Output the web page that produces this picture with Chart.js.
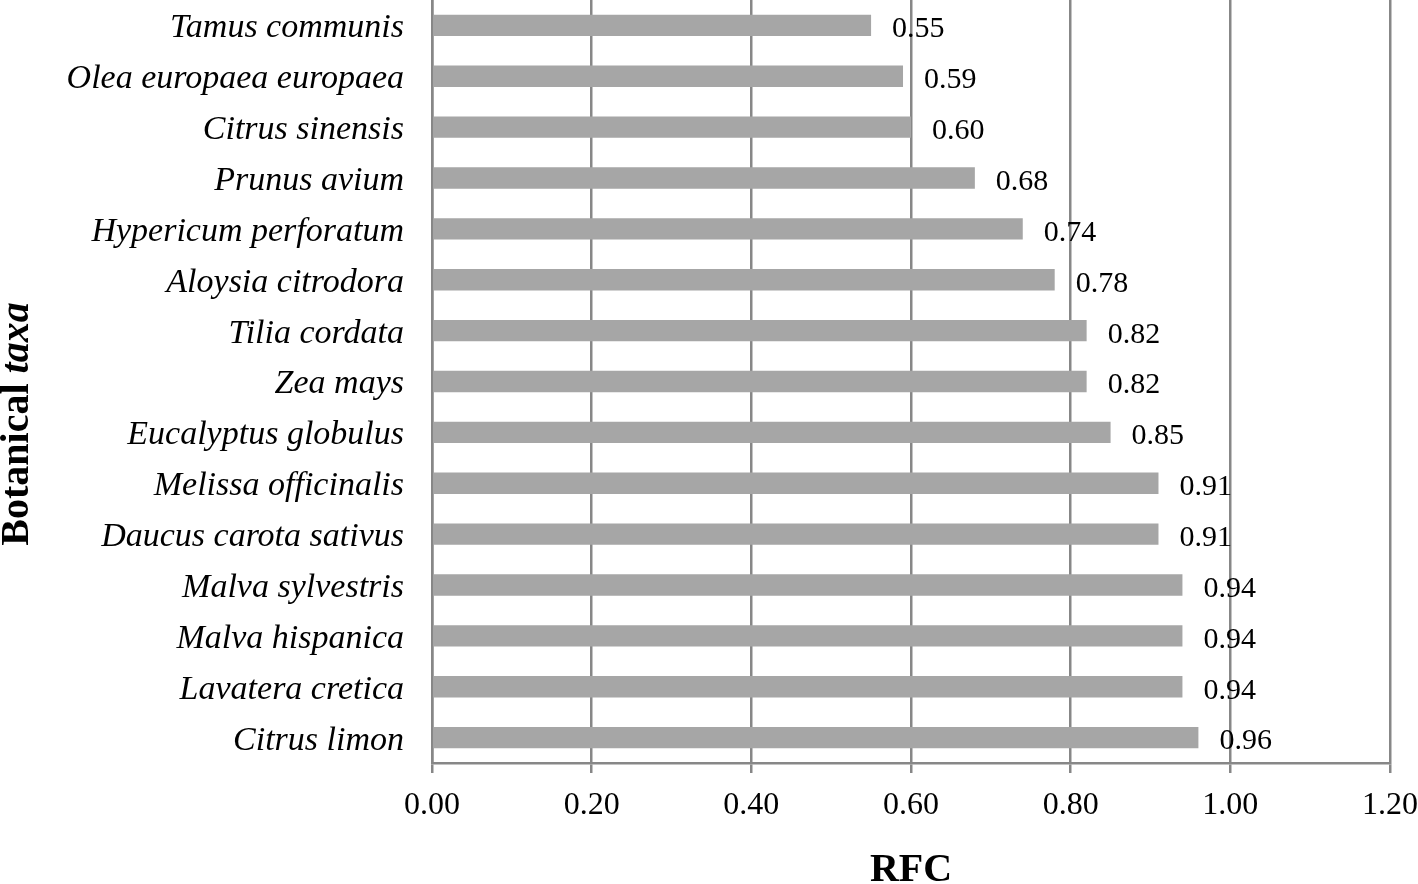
<!DOCTYPE html>
<html>
<head>
<meta charset="utf-8">
<script src="https://cdn.jsdelivr.net/npm/chart.js@4/dist/chart.umd.min.js"></script>
<style>
  html, body { margin: 0; padding: 0; background: #fff; }
  #wrap { width: 1418px; height: 884px; }
</style>
</head>
<body>
<div id="wrap"><canvas id="rfcChart" width="1418" height="884"></canvas></div>
<script>
// ── data ──────────────────────────────
const taxa = [
  'Tamus communis', 'Olea europaea europaea', 'Citrus sinensis', 'Prunus avium',
  'Hypericum perforatum', 'Aloysia citrodora', 'Tilia cordata', 'Zea mays',
  'Eucalyptus globulus', 'Melissa officinalis', 'Daucus carota sativus',
  'Malva sylvestris', 'Malva hispanica', 'Lavatera cretica', 'Citrus limon'
];
const rfc = [0.55, 0.59, 0.60, 0.68, 0.74, 0.78, 0.82, 0.82, 0.85, 0.91, 0.91, 0.94, 0.94, 0.94, 0.96];
const xTicks = [0, 0.2, 0.4, 0.6, 0.8, 1.0, 1.2];

const SERIF = "'Liberation Serif', 'Times New Roman', serif";
const GRID = '#878787';

// value labels right of each bar
const valueLabels = {
  id: 'valueLabels',
  afterDatasetsDraw(chart) {
    const ctx = chart.ctx;
    const meta = chart.getDatasetMeta(0);
    ctx.save();
    ctx.font = '30px ' + SERIF;
    ctx.fillStyle = '#000';
    ctx.textAlign = 'left';
    ctx.textBaseline = 'middle';
    meta.data.forEach((bar, i) => {
      ctx.fillText(rfc[i].toFixed(2), bar.x + 21, bar.y + 4);
    });
    ctx.restore();
  }
};

// axis titles (y title mixes bold and bold-italic)
const axisTitles = {
  id: 'axisTitles',
  afterDraw(chart) {
    const ctx = chart.ctx;
    const area = chart.chartArea;
    ctx.save();
    ctx.fillStyle = '#000';
    ctx.textBaseline = 'middle';

    ctx.font = 'bold 40px ' + SERIF;
    ctx.textAlign = 'center';
    ctx.fillText('RFC', (area.left + area.right) / 2, 871);

    const partA = 'Botanical ';
    const partB = 'taxa';
    const fontA = 'bold 40px ' + SERIF;
    const fontB = 'italic bold 40px ' + SERIF;
    ctx.font = fontA;
    const wA = ctx.measureText(partA).width;
    ctx.font = fontB;
    const wB = ctx.measureText(partB).width;
    ctx.translate(18, 424);
    ctx.rotate(-Math.PI / 2);
    ctx.textAlign = 'left';
    const start = -(wA + wB) / 2;
    ctx.font = fontA;
    ctx.fillText(partA, start, 0);
    ctx.font = fontB;
    ctx.fillText(partB, start + wA, 0);
    ctx.restore();
  }
};

new Chart(document.getElementById('rfcChart').getContext('2d'), {
  type: 'bar',
  data: {
    labels: taxa,
    datasets: [{
      data: rfc,
      backgroundColor: '#a6a6a6',
      borderWidth: 0,
      barPercentage: 0.84,
      categoryPercentage: 0.5
    }]
  },
  options: {
    indexAxis: 'y',
    responsive: false,
    animation: false,
    layout: { padding: { top: 0, right: 28, bottom: 0, left: 0 } },
    plugins: {
      legend: { display: false },
      tooltip: { enabled: false }
    },
    scales: {
      x: {
        min: 0,
        max: 1.2,
        afterBuildTicks: scale => { scale.ticks = xTicks.map(v => ({ value: v })); },
        afterFit: scale => {
          scale.height = 121;
          scale.paddingLeft = 0;
          scale.paddingRight = 0;
        },
        grid: { color: GRID, lineWidth: 2.5, tickLength: 10, drawTicks: true },
        border: { color: GRID, width: 2.5 },
        ticks: {
          font: { family: SERIF, size: 32 },
          color: '#000',
          padding: 13,
          maxRotation: 0,
          callback: v => Number(v).toFixed(2)
        }
      },
      y: {
        afterFit: scale => {
          scale.width = 432;
          scale.paddingTop = 0;
          scale.paddingBottom = 0;
        },
        grid: { display: false, drawTicks: false },
        border: { color: GRID, width: 2.5 },
        ticks: {
          font: { family: SERIF, size: 34, style: 'italic' },
          color: '#000',
          padding: 28,
          labelOffset: 3
        }
      }
    }
  },
  plugins: [valueLabels, axisTitles]
});
</script>
</body>
</html>
